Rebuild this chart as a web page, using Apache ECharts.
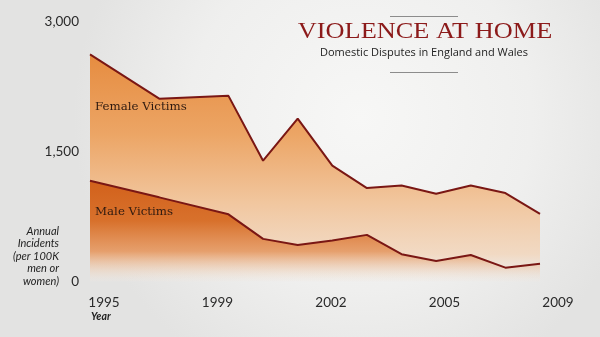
<!DOCTYPE html>
<html>
<head>
<meta charset="utf-8">
<script src="https://cdn.jsdelivr.net/npm/echarts@6/dist/echarts.min.js"></script>
<style>
  html, body { margin: 0; padding: 0; }
  #chart { width: 600px; height: 337px; }
</style>
</head>
<body>
<div id="chart"></div>
<script>
// Survey years (x positions of the data points)
const years = [1995, 1997, 1999, 2000, 2001, 2002, 2003, 2004, 2005, 2006, 2007, 2008];
// Annual incidents per 100K women / men
const femaleVictims = [2620, 2110, 2142, 1394, 1879, 1336, 1078, 1108, 1012, 1108, 1020, 781];
const maleVictims   = [1162, 971, 775, 492, 422, 474, 538, 315, 237, 306, 160, 206];
// Year labels shown evenly along the bottom
const yearTicks = ['1995', '1999', '2002', '2005', '2009'];
// Value axis ticks
const yTicks = [0, 1500, 3000];

const pairs = (xs, ys) => xs.map((x, i) => [x, ys[i]]);

const chart = echarts.init(document.getElementById('chart'), null, { renderer: 'canvas' });

const grad = (stops) => new echarts.graphic.LinearGradient(0, 0, 0, 1,
  stops.map(([offset, color]) => ({ offset, color })));

const option = {
  animation: false,
  backgroundColor: new echarts.graphic.RadialGradient(0.6, 0.35, 0.85, [
    { offset: 0, color: '#f7f7f6' },
    { offset: 0.6, color: '#efefee' },
    { offset: 1, color: '#e3e3e2' }
  ]),
  grid: [
    { left: 90, right: 60, top: 21.5, bottom: 55.5 },
    { left: 104, right: 42, top: 21.5, bottom: 55.5 }
  ],
  xAxis: [
    {
      type: 'value', gridIndex: 0, min: years[0], max: years[years.length - 1],
      show: false
    },
    {
      type: 'category', gridIndex: 1, data: yearTicks, boundaryGap: false,
      axisLine: { show: false }, axisTick: { show: false }, splitLine: { show: false },
      axisLabel: {
        margin: 14, color: '#2a2a2a', fontFamily: 'Lato', fontSize: 13.5
      }
    }
  ],
  yAxis: [
    {
      type: 'value', gridIndex: 0, min: yTicks[0], max: yTicks[yTicks.length - 1],
      interval: yTicks[1] - yTicks[0],
      axisLine: { show: false }, axisTick: { show: false }, splitLine: { show: false },
      axisLabel: {
        margin: 11, color: '#2a2a2a', fontFamily: 'Lato', fontSize: 13.5,
        formatter: (v) => v.toLocaleString('en-US')
      }
    },
    { type: 'value', gridIndex: 1, min: 0, max: 3000, show: false }
  ],
  series: [
    {
      name: 'Female Victims', type: 'line',
      xAxisIndex: 0, yAxisIndex: 0,
      data: pairs(years, femaleVictims),
      symbol: 'none',
      lineStyle: { color: '#7a1714', width: 2 },
      areaStyle: {
        origin: 'start', opacity: 1,
        color: grad([
          [0, '#e68c40'],
          [0.35, '#eca565'],
          [0.65, '#f1c69e'],
          [0.88, 'rgba(242,214,188,0.85)'],
          [1, 'rgba(240,232,224,0.2)']
        ])
      },
      z: 2
    },
    {
      name: 'Male Victims', type: 'line',
      xAxisIndex: 0, yAxisIndex: 0,
      data: pairs(years, maleVictims),
      symbol: 'none',
      lineStyle: { color: '#7a1714', width: 2 },
      areaStyle: {
        origin: 'start', opacity: 1,
        color: grad([
          [0, '#d2611b'],
          [0.4, '#d8712c'],
          [0.7, 'rgba(226,140,80,0.75)'],
          [1, 'rgba(240,225,210,0)']
        ])
      },
      z: 3
    }
  ],
  graphic: [
    // Title block
    { type: 'line', shape: { x1: 390, y1: 16.5, x2: 458, y2: 16.5 },
      style: { stroke: '#8c8c8c', lineWidth: 1 } },
    { type: 'text', x: 425, y: 32, scaleX: 1.17, originX: 0, style: {
        text: 'VIOLENCE AT HOME', fill: '#8c1a1a',
        font: '22.5px "Liberation Serif"', textAlign: 'center', textVerticalAlign: 'middle' } },
    { type: 'text', x: 424, y: 53, style: {
        text: 'Domestic Disputes in England and Wales', fill: '#222',
        font: '11px "Open Sans"', textAlign: 'center', textVerticalAlign: 'middle' } },
    { type: 'line', shape: { x1: 390, y1: 72.5, x2: 458, y2: 72.5 },
      style: { stroke: '#8c8c8c', lineWidth: 1 } },
    // Series labels
    { type: 'text', x: 95, y: 107, z: 10, style: {
        text: 'Female Victims', fill: '#2e1a10',
        font: '11.8px "DejaVu Serif"', textVerticalAlign: 'middle' } },
    { type: 'text', x: 95, y: 212, z: 10, style: {
        text: 'Male Victims', fill: '#2e1a10',
        font: '11.8px "DejaVu Serif"', textVerticalAlign: 'middle' } },
    // Axis names
    { type: 'text', x: 59, y: 225, style: {
        text: 'Annual\nIncidents\n(per 100K\nmen or\nwomen)', fill: '#222',
        font: 'italic 11px Lato', textAlign: 'right', lineHeight: 12.5 } },
    { type: 'text', x: 91, y: 311, style: {
        text: 'Year', fill: '#222', font: 'italic bold 10.5px Lato' } }
  ]
};

chart.setOption(option);
</script>
</body>
</html>
